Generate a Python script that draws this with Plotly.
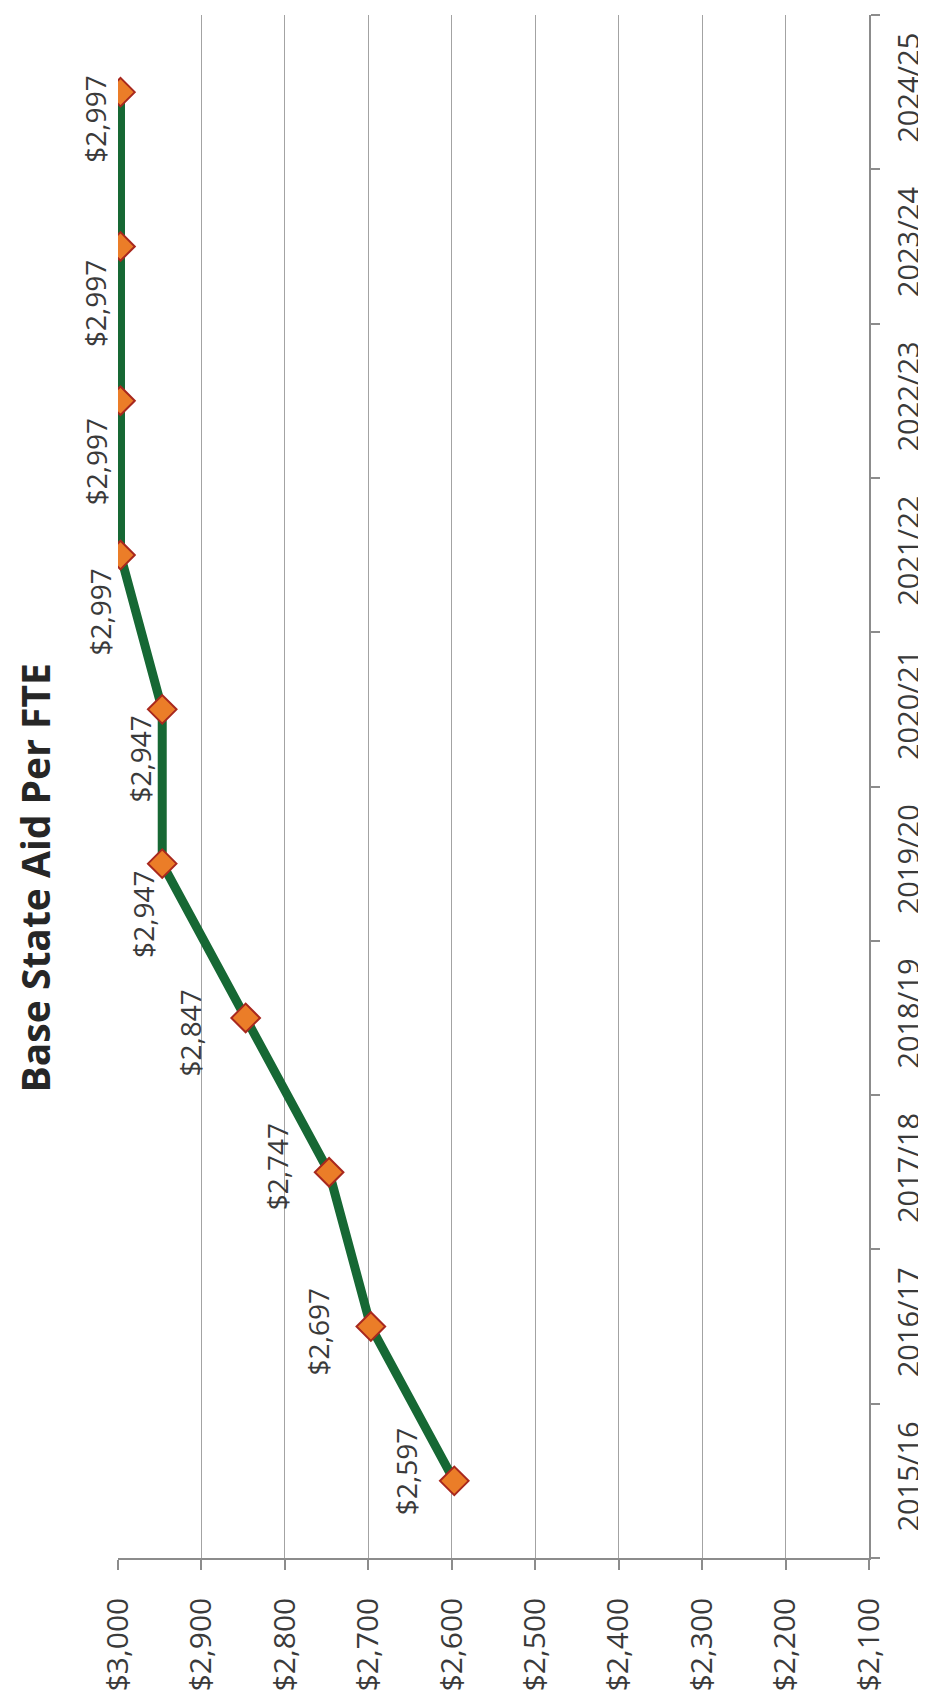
import plotly.graph_objects as go

# ---- data ----
years = ["2015/16", "2016/17", "2017/18", "2018/19", "2019/20",
         "2020/21", "2021/22", "2022/23", "2023/24", "2024/25"]
aid_per_fte = [2597, 2697, 2747, 2847, 2947, 2947, 2997, 2997, 2997, 2997]
value_ticks = [3000, 2900, 2800, 2700, 2600, 2500, 2400, 2300, 2200, 2100]
title_text = "Base State Aid Per FTE"

# label placement (pixel offsets relative to each marker): style only
label_dx = [-48, -53, -52, -56, -20, -22, -20, -25, -25, -25]
label_dy = [9, -5, 5, -15, -51, -50, -57, -61, -57, -27]

FONT = "Open Sans, Segoe UI, Calibri, sans-serif"
GRID = "#A3A3A3"
AXIS = "#8C8C8C"
TXT = "#3A3A3A"

fig = go.Figure()
fig.add_trace(go.Scatter(
    x=aid_per_fte, y=years, mode="lines+markers",
    line=dict(color="#166834", width=9),
    marker=dict(symbol="diamond", size=22, color="#EB7D28",
                line=dict(color="#A8281E", width=2)),
    showlegend=False, hoverinfo="skip"))

for v, yr, dx, dy in zip(aid_per_fte, years, label_dx, label_dy):
    fig.add_annotation(x=v, y=yr, xref="x", yref="y",
                       text=f"${v:,}", showarrow=False, textangle=-90,
                       xshift=dx, yshift=dy,
                       font=dict(family=FONT, size=28, color=TXT))

fig.add_annotation(x=-0.110, y=0.4407, xref="paper", yref="paper",
                   text=f"<b>{title_text}</b>", showarrow=False, textangle=-90,
                   xanchor="center", yanchor="middle",
                   font=dict(family=FONT, size=39, color="#262626"))

fig.update_layout(
    width=926, height=1699,
    margin=dict(l=110, r=60, t=7, b=149),
    paper_bgcolor="white", plot_bgcolor="white",
    xaxis=dict(range=[3000, 2100], tickvals=value_ticks,
               ticktext=[f"${v:,}" for v in value_ticks],
               tickangle=-90, showgrid=True, gridcolor=GRID, gridwidth=1,
               showline=True, linecolor=AXIS, linewidth=1.5,
               ticks="outside", ticklen=10, tickcolor=AXIS, tickwidth=1.5,
               ticklabelstandoff=16, zeroline=False,
               tickfont=dict(family=FONT, size=30, color=TXT)),
    yaxis=dict(type="category", categoryorder="array", categoryarray=years,
               range=[-0.5, 9.5], side="right", tickson="boundaries",
               tickangle=-90, showgrid=False,
               showline=True, linecolor=AXIS, linewidth=1.5,
               ticks="outside", ticklen=9, tickcolor=AXIS, tickwidth=1.5,
               ticklabelstandoff=13, zeroline=False,
               tickfont=dict(family=FONT, size=29, color=TXT)),
)

fig.write_html("out.html")
